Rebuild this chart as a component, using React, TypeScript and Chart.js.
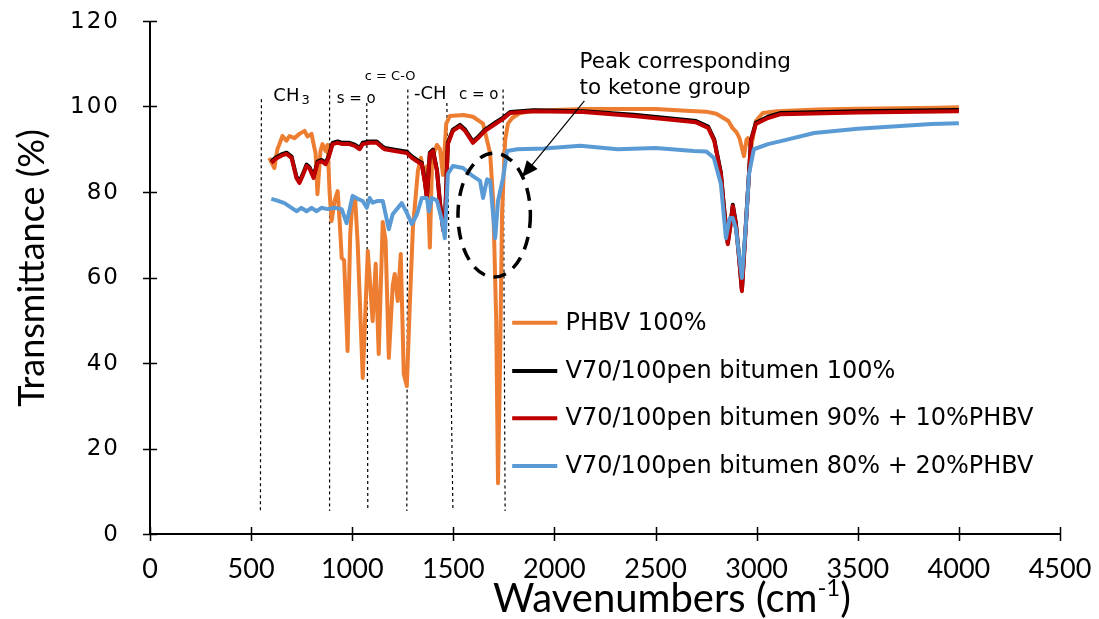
import React, { useEffect, useRef } from "react";
import { Chart, registerables } from "chart.js";

Chart.register(...registerables);

// ---------- data ----------
const xTickValues = [0, 500, 1000, 1500, 2000, 2500, 3000, 3500, 4000, 4500];
const yTickValues = [0, 20, 40, 60, 80, 100, 120];

const seriesLabels = [
  "PHBV 100%",
  "V70/100pen bitumen 100%",
  "V70/100pen bitumen 90% + 10%PHBV",
  "V70/100pen bitumen 80% + 20%PHBV",
];

const phbv: [number, number][] = [
  [590, 88], [600, 87], [615, 85.6], [630, 90], [640, 91.2], [655, 93.1], [675, 92], [690, 93.1],
  [714, 92.6], [739, 93.6], [764, 94.3], [779, 93], [799, 93.6], [809, 91.2], [819, 89], [828, 79.5],
  [843, 89.6], [853, 91.2], [868, 89.6], [878, 91], [888, 80], [898, 73.2], [913, 78], [928, 80.2],
  [938, 73], [948, 64.6], [960, 64], [977, 42.8], [990, 70], [1002, 78.6], [1015, 78], [1027, 68],
  [1052, 36.5], [1077, 66.2], [1101, 49.8], [1116, 63.2], [1131, 42.1], [1151, 73], [1165, 68.5],
  [1181, 41.2], [1200, 58], [1210, 60.8], [1225, 54.5], [1240, 65.5], [1255, 37.4], [1270, 34.6],
  [1285, 53.8], [1300, 71.6], [1312, 78], [1325, 85], [1340, 88], [1355, 84], [1370, 86], [1384, 67],
  [1395, 88], [1419, 91], [1434, 90], [1449, 84], [1465, 96], [1483, 97.8], [1550, 98], [1597, 97.6],
  [1647, 96], [1682, 89], [1697, 78], [1712, 50], [1721, 11.9], [1731, 40], [1741, 75], [1756, 92],
  [1770, 96], [1791, 97.3], [1831, 98.5], [1900, 99], [2000, 99.2], [2150, 99.4], [2300, 99.4],
  [2500, 99.4], [2650, 99], [2750, 98.8], [2800, 98.3], [2830, 97.5], [2860, 96.6], [2880, 95],
  [2900, 94], [2915, 92.6], [2937, 88.4], [2950, 92.2], [2957, 92.6], [2972, 90.3], [2996, 96.6],
  [3031, 98.5], [3100, 98.9], [3300, 99.3], [3500, 99.5], [3700, 99.6], [3900, 99.7], [4000, 99.8],
];

const bitumen100: [number, number][] = [
  [600, 87.1], [620, 88], [650, 88.8], [675, 89.2], [700, 88.3], [724, 83.6], [739, 82.4], [754, 84],
  [774, 86.4], [789, 85.8], [809, 83.6], [828, 87.1], [848, 87.5], [868, 86.8], [883, 88.3], [903, 91.5],
  [928, 91.8], [952, 91.5], [987, 91.5], [1012, 91.1], [1037, 90.3], [1052, 91.5], [1086, 91.8],
  [1121, 91.8], [1151, 90.6], [1161, 90.3], [1210, 89.9], [1270, 89.4], [1295, 88.3], [1320, 87.5],
  [1344, 86.8], [1360, 82.3], [1369, 78.9], [1384, 89.2], [1399, 89.9], [1419, 85.2], [1434, 77.5],
  [1450, 71.3], [1458, 72.3], [1473, 91.5], [1498, 94.6], [1533, 95.7], [1558, 94.6], [1597, 91.8],
  [1622, 92.9], [1657, 94.6], [1707, 96.2], [1746, 97.4], [1781, 98.7], [1895, 99.1], [2143, 98.9],
  [2391, 98.1], [2639, 96.9], [2700, 96.6], [2760, 95.3], [2790, 92.3], [2823, 84.5], [2838, 76.6],
  [2857, 68.1], [2870, 72.3], [2882, 77], [2897, 72.8], [2912, 65.3], [2927, 57.1], [2947, 72.8],
  [2972, 92.2], [2996, 96.2], [3056, 97.6], [3120, 98.5], [3500, 98.9], [4000, 99.2],
];

const bitumen90: [number, number][] = [
  [600, 86.8], [620, 87.7], [650, 88.5], [675, 88.9], [700, 88], [724, 83.3], [739, 82.1], [754, 83.7],
  [774, 86.1], [789, 85.5], [809, 83.3], [828, 86.8], [848, 87.2], [868, 86.5], [883, 88], [903, 91.2],
  [928, 91.5], [952, 91.2], [987, 91.2], [1012, 90.8], [1037, 90], [1052, 91.2], [1086, 91.5],
  [1121, 91.5], [1151, 90.3], [1161, 90], [1210, 89.6], [1270, 89.1], [1295, 88], [1320, 87.2],
  [1344, 86.5], [1360, 82], [1369, 78.6], [1384, 88.9], [1399, 89.6], [1419, 84.9], [1434, 77.2],
  [1450, 71], [1458, 72], [1473, 91.2], [1498, 94.3], [1533, 95.4], [1558, 94.3], [1597, 91.5],
  [1622, 92.6], [1657, 94.3], [1707, 95.9], [1746, 97.1], [1781, 98.5], [1895, 98.9], [2143, 98.7],
  [2391, 97.8], [2639, 96.6], [2700, 96.3], [2760, 95], [2790, 92], [2823, 84.2], [2838, 76.3],
  [2857, 67.8], [2870, 72], [2882, 76.7], [2897, 72.5], [2912, 65], [2927, 56.8], [2947, 72.5],
  [2972, 91.9], [2996, 95.9], [3056, 97.3], [3120, 98.2], [3500, 98.6], [4000, 98.9],
];

const bitumen80: [number, number][] = [
  [600, 78.4], [630, 78], [665, 77.4], [700, 76.3], [724, 75.5], [749, 76.3], [774, 75.5], [799, 76.3],
  [824, 75.5], [848, 76.3], [878, 76], [913, 76.3], [948, 76], [972, 72.7], [1002, 79.1], [1027, 78.4],
  [1052, 77.9], [1072, 76.3], [1086, 78.6], [1101, 77.5], [1126, 77.9], [1151, 77.9], [1181, 71.3],
  [1200, 74.8], [1245, 77.4], [1270, 75.1], [1295, 72.5], [1320, 74.8], [1344, 78.6], [1369, 78.6],
  [1379, 75.5], [1394, 78.6], [1419, 78], [1444, 73.2], [1458, 69.2], [1473, 84.2], [1498, 86.1],
  [1548, 85.6], [1597, 83.7], [1632, 82.6], [1647, 78.6], [1667, 83], [1682, 82.6], [1707, 69.2],
  [1721, 77.9], [1746, 83.3], [1766, 89.6], [1816, 90], [1950, 90.2], [2128, 90.8], [2312, 90],
  [2500, 90.3], [2689, 89.6], [2750, 89.5], [2788, 88], [2823, 81.9], [2848, 69.2], [2867, 73.9],
  [2882, 73.9], [2897, 71.5], [2927, 59.9], [2947, 72.5], [2962, 84.2], [2986, 90], [3056, 91.2],
  [3120, 91.9], [3284, 93.8], [3500, 94.8], [3865, 95.9], [4000, 96.1],
];

// band marker lines: [x top, y top, x bottom, y bottom]
const bandLines: [number, number, number, number][] = [
  [551, 101.7, 546, 5.4],
  [888, 104, 888, 5.4],
  [1072, 100.8, 1077, 5.4],
  [1275, 104, 1270, 5.4],
  [1468, 100.8, 1498, 5.4],
  [1746, 104, 1756, 5.4],
];

const bandLabels = ["CH", "s = o", "c = C-O", "-CH", "c = o"];
const noteLines = ["Peak corresponding", "to ketone group"];

// ---------- styles ----------
const COLORS = ["#ED7D31", "#000000", "#C00000", "#5B9BD5"];
const NARROW = "'Lato', sans-serif";
const WIDE = "'DejaVu Sans', sans-serif";

const overlay = {
  id: "overlay",
  afterDraw(chart: any) {
    const ctx = chart.ctx as CanvasRenderingContext2D;
    const xs = chart.scales.x;
    const ys = chart.scales.y;
    const X = (v: number) => xs.getPixelForValue(v);
    const Y = (v: number) => ys.getPixelForValue(v);
    const a = chart.chartArea;
    ctx.save();

    // axes
    ctx.strokeStyle = "#000";
    ctx.lineWidth = 2;
    ctx.beginPath();
    ctx.moveTo(a.left, a.top);
    ctx.lineTo(a.left, a.bottom);
    ctx.lineTo(a.right, a.bottom);
    ctx.stroke();
    ctx.lineWidth = 1.5;
    ctx.beginPath();
    for (const t of yTickValues) {
      const py = Math.round(Y(t)) + 0.5;
      ctx.moveTo(a.left - 7, py);
      ctx.lineTo(a.left + 7, py);
    }
    for (const t of xTickValues) {
      const px = Math.round(X(t)) + 0.5;
      ctx.moveTo(px, a.bottom - 7);
      ctx.lineTo(px, a.bottom + 7);
    }
    ctx.stroke();

    // tick labels
    ctx.fillStyle = "#000";
    ctx.font = `23px ${WIDE}`;
    (ctx as any).letterSpacing = "2px";
    ctx.textAlign = "right";
    ctx.textBaseline = "middle";
    for (const t of yTickValues) ctx.fillText(String(t), a.left - 30, Y(t) + 1);
    (ctx as any).letterSpacing = "0px";
    ctx.font = `27px ${NARROW}`;
    ctx.textAlign = "center";
    for (const t of xTickValues) ctx.fillText(String(t), X(t), a.bottom + 35);

    // axis titles
    ctx.save();
    ctx.translate(32, 268);
    ctx.rotate(-Math.PI / 2);
    ctx.font = `36px ${NARROW}`;
    ctx.textAlign = "center";
    ctx.textBaseline = "middle";
    ctx.fillText("Transmittance (%)", 0, 0);
    ctx.restore();

    ctx.textBaseline = "alphabetic";
    ctx.textAlign = "left";
    const main = "Wavenumbers (cm";
    const sup = "-1";
    const close = ")";
    ctx.font = `40px ${NARROW}`;
    const wMain = ctx.measureText(main).width;
    ctx.font = `24px ${NARROW}`;
    const wSup = ctx.measureText(sup).width;
    ctx.font = `40px ${NARROW}`;
    const wClose = ctx.measureText(close).width;
    const total = wMain + wSup + wClose;
    let sx = 672 - total / 2;
    const base = 612;
    ctx.fillText(main, sx, base);
    sx += wMain;
    ctx.font = `24px ${NARROW}`;
    ctx.fillText(sup, sx, base - 16);
    sx += wSup;
    ctx.font = `40px ${NARROW}`;
    ctx.fillText(close, sx, base);

    // band labels
    ctx.textBaseline = "middle";
    ctx.font = `18px ${WIDE}`;
    ctx.fillText(bandLabels[0], X(610), Y(102.4));
    const wCH = ctx.measureText(bandLabels[0]).width;
    ctx.font = `13px ${WIDE}`;
    ctx.fillText("3", X(610) + wCH + 2, Y(102.4) + 4);
    ctx.font = `15px ${WIDE}`;
    ctx.fillText(bandLabels[1], X(923), Y(101.7));
    ctx.font = `13px ${WIDE}`;
    ctx.fillText(bandLabels[2], X(1062), Y(106.9));
    ctx.font = `18px ${WIDE}`;
    ctx.fillText(bandLabels[3], X(1305), Y(102.8));
    ctx.font = `15px ${WIDE}`;
    ctx.fillText(bandLabels[4], X(1528), Y(102.7));

    // note text
    ctx.font = `21.5px ${WIDE}`;
    ctx.fillText(noteLines[0], X(2124), Y(110.2));
    ctx.fillText(noteLines[1], X(2124), Y(104.2));

    // arrow
    const x0 = X(2148), y0 = Y(101.3), x1 = X(1840), y1 = Y(83.5);
    ctx.lineWidth = 1.2;
    ctx.beginPath();
    ctx.moveTo(x0, y0);
    ctx.lineTo(x1, y1);
    ctx.stroke();
    const ang = Math.atan2(y1 - y0, x1 - x0);
    const L = 16, Wd = 7;
    ctx.beginPath();
    ctx.moveTo(x1, y1);
    ctx.lineTo(x1 - L * Math.cos(ang) + Wd * Math.sin(ang), y1 - L * Math.sin(ang) - Wd * Math.cos(ang));
    ctx.lineTo(x1 - L * Math.cos(ang) - Wd * Math.sin(ang), y1 - L * Math.sin(ang) + Wd * Math.cos(ang));
    ctx.closePath();
    ctx.fill();

    // dashed ellipse
    const cx = X(1702), cy = Y(74.6);
    const rx = X(1702 + 179) - cx, ry = cy - Y(74.6 + 14.5);
    ctx.lineWidth = 3.5;
    ctx.setLineDash([13, 9]);
    ctx.beginPath();
    ctx.ellipse(cx, cy, rx, ry, 0, 0, Math.PI * 2);
    ctx.stroke();
    ctx.setLineDash([]);

    // legend
    const rowsY = [49.4, 38.1, 27.1, 15.9];
    ctx.font = `24px ${WIDE}`;
    ctx.textBaseline = "middle";
    seriesLabels.forEach((lab, i) => {
      const py = Y(rowsY[i]);
      ctx.strokeStyle = COLORS[i];
      ctx.lineWidth = 4;
      ctx.beginPath();
      ctx.moveTo(X(1791), py);
      ctx.lineTo(X(2014), py);
      ctx.stroke();
      ctx.fillStyle = "#000";
      ctx.fillText(lab, X(2055), py + 1);
    });

    ctx.restore();
  },
};

export default function App() {
  const ref = useRef<HTMLCanvasElement | null>(null);
  useEffect(() => {
    document.body.style.margin = "0";
    const canvas = ref.current!;
    const series = [phbv, bitumen100, bitumen90, bitumen80];
    const datasets: any[] = series.map((s, i) => ({
      label: seriesLabels[i],
      data: s.map(([x, y]) => ({ x, y })),
      borderColor: COLORS[i],
      borderWidth: 4,
      pointRadius: 0,
      tension: 0,
      fill: false,
      order: 4 - i,
      borderJoinStyle: "round",
    }));
    bandLines.forEach(([xt, yt, xb, yb]) => {
      datasets.push({
        label: "",
        data: [{ x: xt, y: yt }, { x: xb, y: yb }],
        borderColor: "#000",
        borderWidth: 1.2,
        borderDash: [3, 3],
        pointRadius: 0,
        fill: false,
        order: 10,
      });
    });
    const chart = new Chart(canvas, {
      type: "line",
      data: { datasets },
      options: {
        responsive: false,
        animation: false,
        devicePixelRatio: 1,
        layout: { padding: { left: 0, top: 21, right: 39, bottom: 0 } },
        plugins: { legend: { display: false }, tooltip: { enabled: false } },
        scales: {
          x: {
            type: "linear",
            min: 0,
            max: 4500,
            afterBuildTicks: (s: any) => { s.ticks = xTickValues.map((v) => ({ value: v })); },
            afterFit: (s: any) => { s.height = 85; },
            grid: { display: false },
            border: { display: false },
            ticks: { display: false },
          },
          y: {
            type: "linear",
            min: 0,
            max: 120,
            afterBuildTicks: (s: any) => { s.ticks = yTickValues.map((v) => ({ value: v })); },
            afterFit: (s: any) => { s.width = 150; },
            grid: { display: false },
            border: { display: false },
            ticks: { display: false },
          },
        },
      },
      plugins: [overlay],
    });
    return () => chart.destroy();
  }, []);
  return <canvas ref={ref} width={1099} height={619} style={{ display: "block" }} />;
}
